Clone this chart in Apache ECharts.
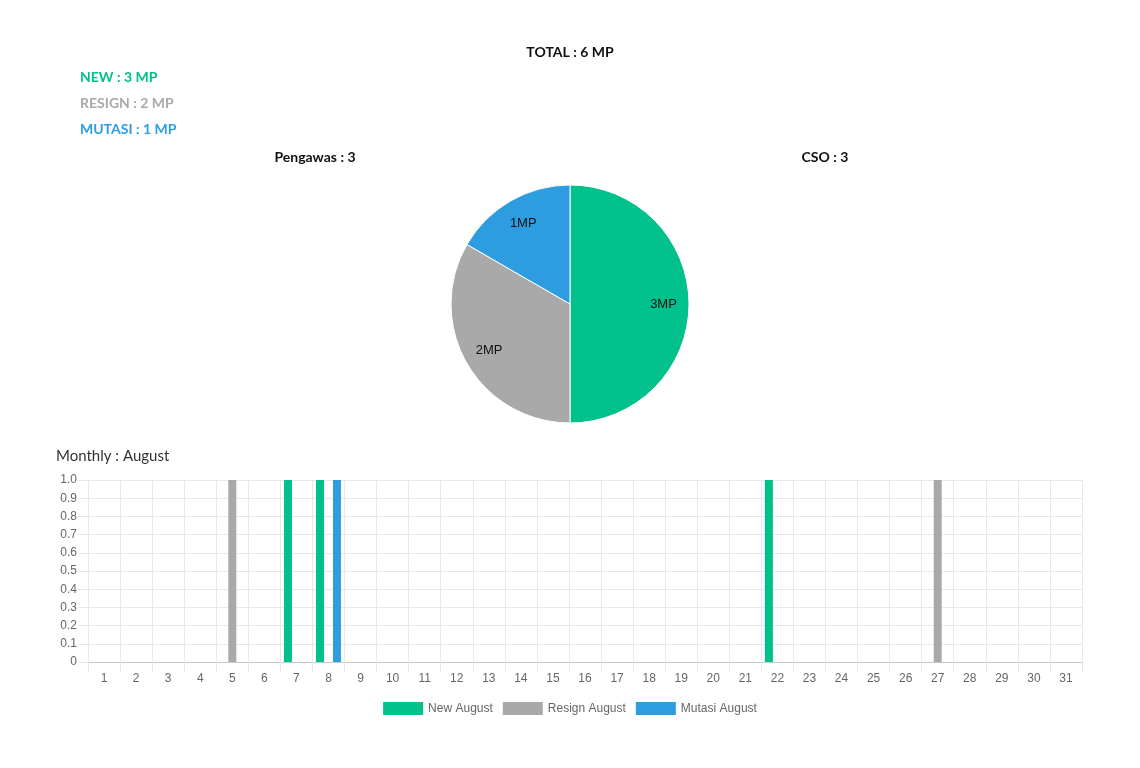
<!DOCTYPE html>
<html>
<head>
<meta charset="utf-8">
<script src="https://cdn.jsdelivr.net/npm/echarts@6/dist/echarts.min.js"></script>
<style>
html,body{margin:0;padding:0;background:#fff;}
#chart{width:1140px;height:768px;}
</style>
</head>
<body>
<div id="chart"></div>
<script>
// ---- data ----
const pieCategories = ['New', 'Resign', 'Mutasi'];
const pieValues = [3, 2, 1];
const totalMP = 6;
const groupNames = ['Pengawas', 'CSO'];
const groupValues = [3, 3];
const monthName = 'August';
const days = ['1','2','3','4','5','6','7','8','9','10','11','12','13','14','15','16','17','18','19','20','21','22','23','24','25','26','27','28','29','30','31'];
const newAugust =    [0,0,0,0,0,0,1,1,0,0, 0,0,0,0,0,0,0,0,0,0, 0,1,0,0,0,0,0,0,0,0, 0];
const resignAugust = [0,0,0,0,1,0,0,0,0,0, 0,0,0,0,0,0,0,0,0,0, 0,0,0,0,0,0,1,0,0,0, 0];
const mutasiAugust = [0,0,0,0,0,0,0,1,0,0, 0,0,0,0,0,0,0,0,0,0, 0,0,0,0,0,0,0,0,0,0, 0];
const seriesNames = ['New August', 'Resign August', 'Mutasi August'];

// ---- styles ----
const colors = ['#00c08b', '#a9a9a9', '#2e9de0'];
const headFont = 'Lato, "Open Sans", sans-serif';
const axisFont = '"Liberation Sans", Arial, sans-serif';
const gridColor = '#e8e8e8';

const chart = echarts.init(document.getElementById('chart'));

const pieData = pieCategories.map((c, i) => ({ name: c, value: pieValues[i], itemStyle: { color: colors[i] } }));
const pieLabelData = pieCategories.map((c, i) => ({ name: c, value: pieValues[i] }));

const summaryTexts = pieCategories.map((c, i) => ({
  type: 'text', left: 80, top: 70 + i * 26,
  style: { text: c.toUpperCase() + ' : ' + pieValues[i] + ' MP', fill: colors[i], font: 'bold 14px ' + headFont }
}));

chart.setOption({
  animation: false,
  color: colors,
  graphic: [
    { type: 'text', left: 'center', top: 45, style: { text: 'TOTAL : ' + totalMP + ' MP', fill: '#111', font: 'bold 14px ' + headFont } },
    ...summaryTexts,
    { type: 'text', x: 315, y: 157, style: { text: groupNames[0] + ' : ' + groupValues[0], fill: '#111', font: 'bold 14px ' + headFont, align: 'center', verticalAlign: 'middle' } },
    { type: 'text', x: 825, y: 157, style: { text: groupNames[1] + ' : ' + groupValues[1], fill: '#111', font: 'bold 14px ' + headFont, align: 'center', verticalAlign: 'middle' } },
    { type: 'text', x: 56, y: 456, style: { text: 'Monthly : ' + monthName, fill: '#333', font: '15px ' + headFont, verticalAlign: 'middle' } }
  ],
  legend: {
    top: 697, left: 'center',
    icon: 'rect', itemWidth: 40, itemHeight: 13, itemGap: 10,
    textStyle: { color: '#666', fontSize: 12, fontFamily: axisFont },
    data: seriesNames
  },
  grid: { left: 88, right: 58, top: 480, bottom: 106, containLabel: false },
  xAxis: {
    type: 'category', data: days, boundaryGap: true,
    axisLine: { show: true, lineStyle: { color: '#c8c8c8', width: 1 } },
    axisTick: { show: true, interval: 0, length: 10, lineStyle: { color: gridColor } },
    axisLabel: { interval: 0, color: '#666', fontSize: 12, fontFamily: axisFont, margin: 11 },
    splitLine: { show: true, interval: 0, lineStyle: { color: gridColor } }
  },
  yAxis: {
    type: 'value', min: 0, max: 1, interval: 0.1,
    axisLine: { show: true, lineStyle: { color: gridColor } },
    axisTick: { show: true, length: 10, lineStyle: { color: gridColor } },
    axisLabel: { color: '#666', fontSize: 12, fontFamily: axisFont, margin: 11,
      formatter: v => v === 0 ? '0' : v.toFixed(1) },
    splitLine: { show: true, lineStyle: { color: gridColor } }
  },
  series: [
    { type: 'pie', name: 'pie', center: [570, 304], radius: 119, startAngle: 90, clockwise: true,
      silent: true, label: { show: false }, labelLine: { show: false },
      itemStyle: { borderColor: '#fff', borderWidth: 1 },
      data: pieData },
    { type: 'pie', name: 'pieLabels', center: [570, 304], radius: [62, 119], startAngle: 90, clockwise: true,
      silent: true, itemStyle: { color: 'rgba(0,0,0,0)', borderWidth: 0 },
      label: { show: true, position: 'inside', formatter: p => p.value + 'MP', color: '#111', fontSize: 13, fontFamily: axisFont },
      labelLine: { show: false },
      data: pieLabelData },
    { type: 'bar', name: seriesNames[0], data: newAugust, barWidth: 8, barGap: '6%', itemStyle: { color: colors[0] } },
    { type: 'bar', name: seriesNames[1], data: resignAugust, barWidth: 8, barGap: '6%', itemStyle: { color: colors[1] } },
    { type: 'bar', name: seriesNames[2], data: mutasiAugust, barWidth: 8, barGap: '6%', itemStyle: { color: colors[2] } }
  ]
});
</script>
</body>
</html>
